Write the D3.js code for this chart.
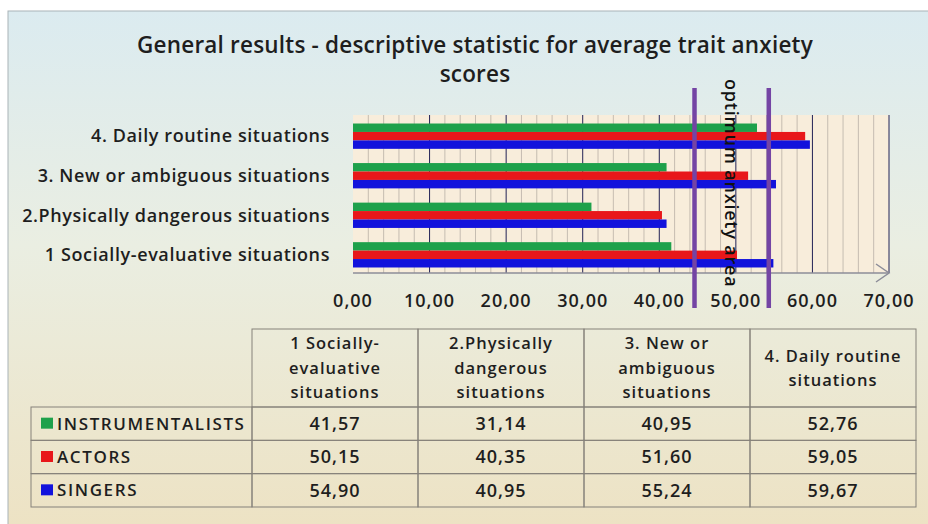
<!DOCTYPE html>
<html>
<head>
<meta charset="utf-8">
<script src="https://cdn.jsdelivr.net/npm/d3@7"></script>
<style>
  html, body { margin: 0; padding: 0; background: #fff; }
  svg { display: block; font-family: "Open Sans", sans-serif; }
</style>
</head>
<body>
<svg id="chart" width="928" height="524"></svg>
<script>
// ----- DATA -----
const categories = [
  "1 Socially-evaluative situations",
  "2.Physically dangerous situations",
  "3. New or ambiguous situations",
  "4. Daily routine situations"
];
const seriesNames = ["INSTRUMENTALISTS", "ACTORS", "SINGERS"];
const instrumentalists = [41.57, 31.14, 40.95, 52.76];
const actors = [50.15, 40.35, 51.60, 59.05];
const singers = [54.90, 40.95, 55.24, 59.67];
const xTicks = [0, 10, 20, 30, 40, 50, 60, 70];
const optimumArea = [44.6, 54.3];
const headerLines = [
  ["1 Socially-", "evaluative", "situations"],
  ["2.Physically", "dangerous", "situations"],
  ["3. New or", "ambiguous", "situations"],
  ["4. Daily routine", "situations"]
];
const colors = ["#1ea14b", "#e8171a", "#1212dc"];

const values = [instrumentalists, actors, singers];
const locale = d3.formatLocale({decimal: ",", thousands: ".", grouping: [3], currency: ["", ""]});
const fmt = locale.format(".2f");

const svg = d3.select("#chart");
const textColor = "#1e1e1e";

// background frame gradient
const defs = svg.append("defs");
const grad = defs.append("linearGradient")
  .attr("id", "bg").attr("x1", 0).attr("y1", 0).attr("x2", 0).attr("y2", 1);
grad.append("stop").attr("offset", "0%").attr("stop-color", "#dbebf0");
grad.append("stop").attr("offset", "45%").attr("stop-color", "#eaeee2");
grad.append("stop").attr("offset", "100%").attr("stop-color", "#ede2c3");

svg.append("rect")
  .attr("x", 8).attr("y", 11).attr("width", 930).attr("height", 520)
  .attr("fill", "url(#bg)").attr("stroke", "#aab4b8");

// title
const title = svg.append("text")
  .attr("text-anchor", "middle")
  .attr("font-size", 22.5).attr("font-weight", 600).attr("fill", textColor)
  .attr("letter-spacing", 0.2);
title.append("tspan").attr("x", 475).attr("y", 53)
  .text("General results - descriptive statistic for average trait anxiety");
title.append("tspan").attr("x", 475).attr("y", 82)
  .text("scores");

// ----- SCALES -----
const plotTop = 115, plotBottom = 273;
const x = d3.scaleLinear().domain([0, 70]).range([353, 889]);
const y = d3.scaleBand()
  .domain(categories.slice().reverse())
  .range([plotTop + 1, plotBottom + 2])
  .paddingInner(0.36).paddingOuter(0.19);
const ySub = d3.scaleBand().domain(seriesNames).range([0, y.bandwidth()]);

// plot area
const plot = svg.append("g");
plot.append("rect")
  .attr("x", x(0)).attr("y", plotTop)
  .attr("width", x(70) - x(0)).attr("height", plotBottom - plotTop)
  .attr("fill", "#f8eddb");

const minor = d3.range(2, 70, 2).filter(v => v % 10 !== 0);
plot.selectAll(".minor").data(minor).join("line")
  .attr("class", "minor")
  .attr("x1", d => x(d)).attr("x2", d => x(d))
  .attr("y1", plotTop).attr("y2", plotBottom)
  .attr("stroke", "#b9b0a6").attr("stroke-width", 0.8);

plot.selectAll(".major").data(xTicks.slice(1)).join("line")
  .attr("class", "major")
  .attr("x1", d => x(d)).attr("x2", d => x(d))
  .attr("y1", plotTop).attr("y2", plotBottom)
  .attr("stroke", "#222256").attr("stroke-width", 1);

// bars
const rows = [];
categories.forEach((c, i) => {
  seriesNames.forEach((s, j) => rows.push({cat: c, series: s, value: values[j][i], color: colors[j]}));
});
plot.selectAll(".bar").data(rows).join("rect")
  .attr("class", "bar")
  .attr("x", x(0))
  .attr("y", d => y(d.cat) + ySub(d.series))
  .attr("width", d => x(d.value) - x(0))
  .attr("height", ySub.bandwidth())
  .attr("fill", d => d.color);

// axis line with arrow
plot.append("line")
  .attr("x1", x(0)).attr("x2", x(70))
  .attr("y1", plotBottom).attr("y2", plotBottom)
  .attr("stroke", "#8c8c98").attr("stroke-width", 1.5);
plot.append("path")
  .attr("d", `M${x(70) - 13},${plotBottom - 9} L${x(70)},${plotBottom} L${x(70) - 13},${plotBottom + 9}`)
  .attr("fill", "none").attr("stroke", "#8c8c98").attr("stroke-width", 1.5);

// x tick labels
svg.selectAll(".xtick").data(xTicks).join("text")
  .attr("class", "xtick")
  .attr("x", d => x(d)).attr("y", 307)
  .attr("text-anchor", "middle")
  .attr("font-size", 18).attr("font-weight", 600).attr("fill", textColor)
  .attr("letter-spacing", 1)
  .text(d => fmt(d));

// category labels
svg.selectAll(".ycat").data(categories).join("text")
  .attr("class", "ycat")
  .attr("x", 330).attr("y", d => y(d) + y.bandwidth() / 2)
  .attr("dy", "0.35em")
  .attr("text-anchor", "end")
  .attr("font-size", 18).attr("font-weight", 600).attr("fill", textColor)
  .attr("letter-spacing", 0.6)
  .text(d => d);

// optimum anxiety area
svg.selectAll(".opt").data(optimumArea).join("line")
  .attr("class", "opt")
  .attr("x1", d => x(d)).attr("x2", d => x(d))
  .attr("y1", 88).attr("y2", 308)
  .attr("stroke", "#7444a4").attr("stroke-width", 4.5);

svg.append("text")
  .attr("transform", `translate(${x(d3.mean(optimumArea)) - 2},79) rotate(90)`)
  .attr("dominant-baseline", "middle")
  .attr("font-size", 18).attr("font-weight", 600).attr("fill", "#111")
  .attr("letter-spacing", 0.8)
  .text("optimum anxiety area");

// ----- DATA TABLE -----
const colX = d3.scaleBand().domain(categories).range([252, 916]);
const rowY = d3.scaleBand().domain(seriesNames).range([407, 507]);
const tableLeft = 31, headTop = 329;
const table = svg.append("g").attr("stroke", "#85817a").attr("stroke-width", 1).attr("fill", "none");

// header cells
table.selectAll(".hcell").data(categories).join("rect")
  .attr("class", "hcell")
  .attr("x", d => colX(d)).attr("y", headTop)
  .attr("width", colX.bandwidth()).attr("height", rowY.range()[0] - headTop);

// body cells
seriesNames.forEach(s => {
  table.append("rect")
    .attr("x", tableLeft).attr("y", rowY(s))
    .attr("width", colX.range()[0] - tableLeft).attr("height", rowY.bandwidth());
  categories.forEach(c => {
    table.append("rect")
      .attr("x", colX(c)).attr("y", rowY(s))
      .attr("width", colX.bandwidth()).attr("height", rowY.bandwidth());
  });
});

// header text
categories.forEach((c, i) => {
  const lines = headerLines[i];
  const lh = 24.5;
  const midY = (headTop + rowY.range()[0]) / 2;
  const t = svg.append("text")
    .attr("text-anchor", "middle")
    .attr("font-size", 16.5).attr("font-weight", 600).attr("fill", textColor)
    .attr("letter-spacing", 1);
  lines.forEach((ln, k) => {
    t.append("tspan")
      .attr("x", colX(c) + colX.bandwidth() / 2)
      .attr("y", midY + (k - (lines.length - 1) / 2) * lh)
      .attr("dy", "0.35em")
      .text(ln);
  });
});

// legend keys + names
seriesNames.forEach((s, j) => {
  const cy = rowY(s) + rowY.bandwidth() / 2;
  svg.append("rect")
    .attr("x", 41).attr("y", cy - 6).attr("width", 12).attr("height", 11)
    .attr("fill", colors[j]);
  svg.append("text")
    .attr("x", 57).attr("y", cy).attr("dy", "0.35em")
    .attr("font-size", 17).attr("font-weight", 600).attr("fill", textColor)
    .attr("letter-spacing", 1.6)
    .text(s);
  categories.forEach((c, i) => {
    svg.append("text")
      .attr("x", colX(c) + colX.bandwidth() / 2).attr("y", cy).attr("dy", "0.35em")
      .attr("text-anchor", "middle")
      .attr("font-size", 18).attr("font-weight", 600).attr("fill", textColor)
      .attr("letter-spacing", 1)
      .text(fmt(values[j][i]));
  });
});
</script>
</body>
</html>
